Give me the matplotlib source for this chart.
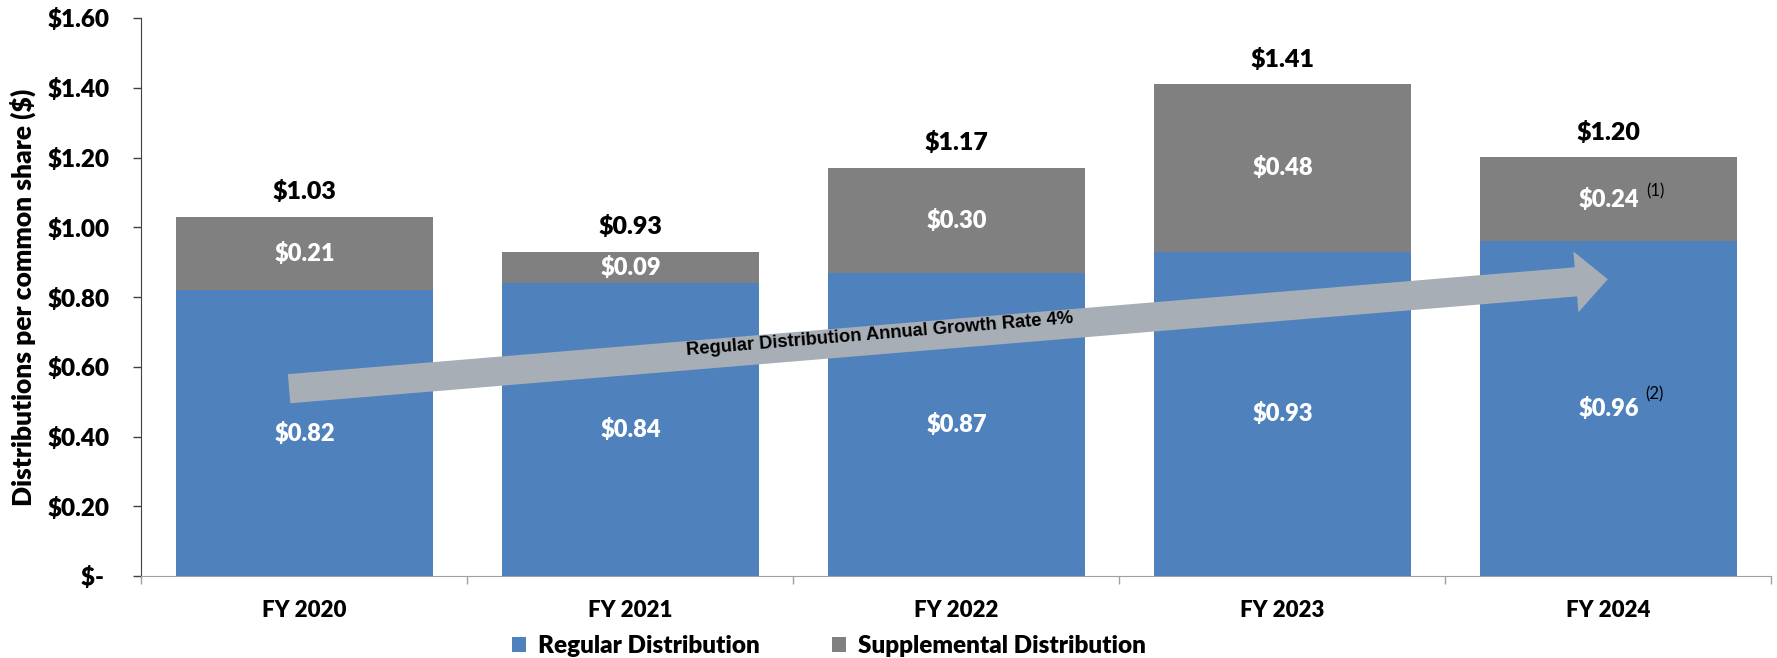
import matplotlib
matplotlib.use("Agg")
import matplotlib.pyplot as plt
from matplotlib.patches import FancyArrowPatch, ArrowStyle
from matplotlib.ticker import FixedLocator

# ---- data ----
categories = ["FY 2020", "FY 2021", "FY 2022", "FY 2023", "FY 2024"]
regular = [0.82, 0.84, 0.87, 0.93, 0.96]
supplemental = [0.21, 0.09, 0.30, 0.48, 0.24]
totals = [1.03, 0.93, 1.17, 1.41, 1.20]
regular_labels = ["$0.82", "$0.84", "$0.87", "$0.93", "$0.96"]
supplemental_labels = ["$0.21", "$0.09", "$0.30", "$0.48", "$0.24"]
total_labels = ["$1.03", "$0.93", "$1.17", "$1.41", "$1.20"]
yticks = [0.0, 0.2, 0.4, 0.6, 0.8, 1.0, 1.2, 1.4, 1.6]
ytick_labels = ["$- ", "$0.20", "$0.40", "$0.60", "$0.80", "$1.00", "$1.20", "$1.40", "$1.60"]
series_names = ["Regular Distribution", "Supplemental Distribution"]
ylabel = "Distributions per common share ($)"
arrow_text = "Regular Distribution Annual Growth Rate 4%"
supp_footnotes = ["", "", "", "", "(1)"]
reg_footnotes = ["", "", "", "", "(2)"]

BLUE = "#4F81BD"
GRAY = "#808080"
ARROW = "#A7AEB5"
FONT = "Lato"

fig = plt.figure(figsize=(17.77, 6.58), dpi=100)
ax = fig.add_axes([141.4 / 1777, 1 - 576 / 658, 1630 / 1777, (576 - 18) / 658])

x = list(range(len(categories)))
width = 0.79
ax.bar(x, regular, width, color=BLUE, label=series_names[0], zorder=2)
ax.bar(x, supplemental, width, bottom=regular, color=GRAY, label=series_names[1], zorder=2)

ax.set_xlim(-0.5, len(categories) - 0.5)
ax.set_ylim(0, 1.6)

# value labels
for i in x:
    ax.text(i, regular[i] / 2, regular_labels[i], ha="center", va="center",
            color="white", fontsize=17, fontweight="heavy", family=FONT, zorder=5)
    ax.text(i, regular[i] + supplemental[i] / 2, supplemental_labels[i], ha="center", va="center",
            color="white", fontsize=17, fontweight="heavy", family=FONT, zorder=5)
    ax.annotate(total_labels[i], xy=(i, totals[i]), xytext=(0, 18), textcoords="offset points",
                ha="center", va="center", color="black", fontsize=18, fontweight="heavy", family=FONT)
    if supp_footnotes[i]:
        ax.annotate(supp_footnotes[i], xy=(i, regular[i] + supplemental[i] / 2), xytext=(34, 6),
                    textcoords="offset points", ha="center", va="center", fontsize=12, family=FONT)
    if reg_footnotes[i]:
        ax.annotate(reg_footnotes[i], xy=(i, regular[i] / 2), xytext=(33, 10),
                    textcoords="offset points", ha="center", va="center", fontsize=12, family=FONT)

# growth arrow
tail = (-0.047, 0.537)
tip = (3.998, 0.851)
arr = FancyArrowPatch(tail, tip, arrowstyle=ArrowStyle.Simple(head_length=23, head_width=44, tail_width=21),
                      mutation_scale=1, color=ARROW, shrinkA=0, shrinkB=0, zorder=4, linewidth=0)
ax.add_patch(arr)
ax.text(1.764, 0.692, arrow_text, rotation=4.75, rotation_mode="anchor", ha="center", va="center",
        fontsize=13.2, fontweight="bold", family="Liberation Sans", color="black", zorder=6)

# axes styling
for s in ["top", "right"]:
    ax.spines[s].set_visible(False)
ax.spines["left"].set_color("#404040")
ax.spines["bottom"].set_color("#A0A0A0")
ax.set_yticks(yticks)
ax.set_yticklabels(ytick_labels, fontsize=17.5, fontweight="heavy", family=FONT)
ax.tick_params(axis="y", length=6, width=1, color="#404040", pad=17)
ax.set_xticks(x)
ax.set_xticklabels(categories, fontsize=16, fontweight="heavy", family=FONT)
ax.tick_params(axis="x", which="major", length=0, pad=17)
ax.xaxis.set_minor_locator(FixedLocator([i - 0.5 for i in range(len(categories) + 1)]))
ax.tick_params(axis="x", which="minor", length=6, width=1, color="#A0A0A0")

fig.text(23 / 1777, 1 - 297 / 658, ylabel, rotation=90, ha="center", va="center",
         fontsize=19, fontweight="heavy", family=FONT)

fig.legend(loc="center", bbox_to_anchor=(0.4665, 0.018), ncol=2, frameon=False,
           prop={"family": FONT, "weight": "heavy", "size": 17.5},
           handlelength=0.55, handleheight=0.6, handletextpad=0.5, columnspacing=3.0, borderpad=0)

fig.savefig("out.png", dpi=100)
